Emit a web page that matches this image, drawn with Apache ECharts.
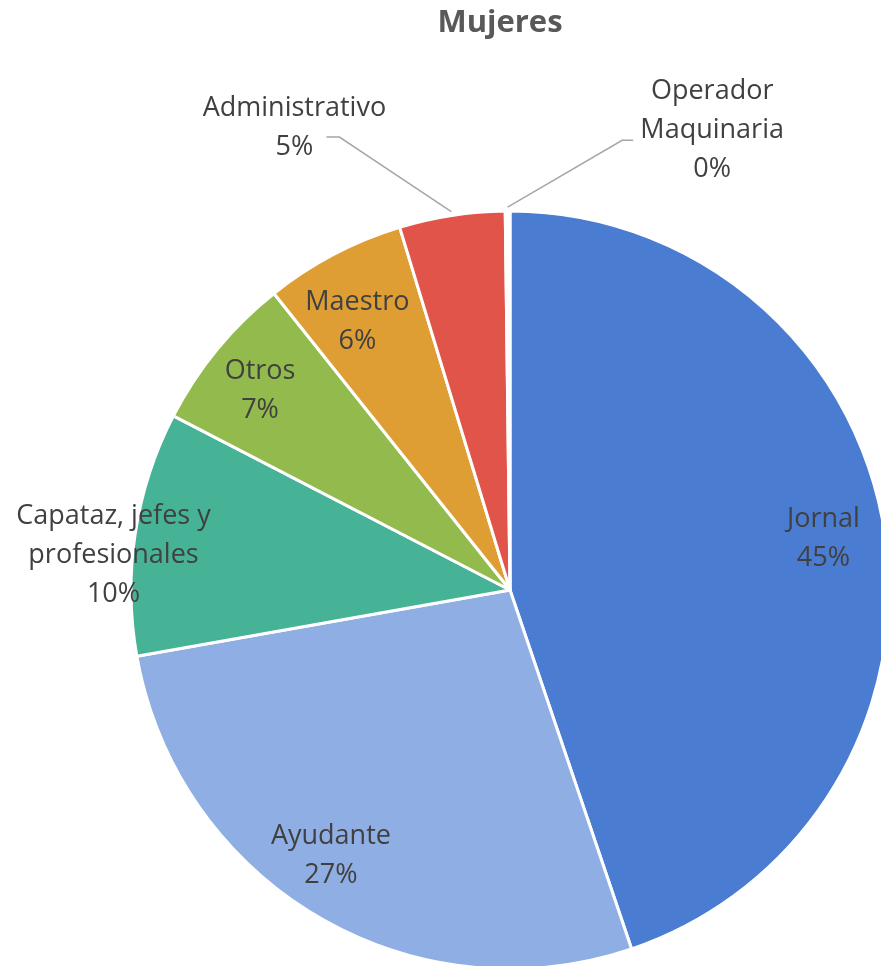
<!DOCTYPE html>
<html>
<head>
<meta charset="utf-8">
<script src="https://cdn.jsdelivr.net/npm/echarts@6/dist/echarts.min.js"></script>
<style>
  html, body { margin: 0; padding: 0; background: #fff; }
  #chart { width: 881px; height: 966px; }
</style>
</head>
<body>
<div id="chart"></div>
<script>
// datos (porcentaje de mujeres por cargo)
const categorias = ['Jornal', 'Ayudante', 'Capataz, jefes y\nprofesionales', 'Otros', 'Maestro', 'Administrativo', 'Operador\nMaquinaria']
const valores = [44.8, 27.4, 10.4, 6.7, 6.0, 4.5, 0.2]
const colores = ['#4A7CD1', '#8FAEE3', '#46B397', '#92BA4D', '#DF9E33', '#E15449', '#FFFFFF']

// posicion de etiquetas: [radio relativo, giro en grados]
const posEtiqueta = [[0.838, 0], [0.845, 3.4], [1.05, -3.7], [0.843, -0.9], [0.815, -1.9], [1.345, -16.2], [1.325, 24.1]]

const cx = 510, cy = 590, R = 379

let total = valores.reduce((a, b) => a + b, 0)
let medios = []
let acum = 0
for (let v of valores) {
    medios.push((acum + v / 2) / total * 360)
    acum += v
}

function polar(ang, k) {
    let r = ang * Math.PI / 180
    return [cx + k * R * Math.sin(r), cy - k * R * Math.cos(r)]
}

let datos = categorias.map((c, i) => {
    let d = { name: c, value: valores[i], itemStyle: { color: colores[i] } }
    if (i >= 5) {
        d.label = { position: 'outside' }
        d.labelLine = { show: true }
    }
    return d
})

var myChart = echarts.init(document.getElementById('chart'))

var option = {
    backgroundColor: '#fff',
    animation: false,
    title: {
        text: 'Mujeres',
        left: 495,
        top: 3,
        textAlign: 'center',
        textStyle: { fontFamily: 'Open Sans', fontWeight: 'bold', fontSize: 31, color: '#595959' }
    },
    series: [{
        type: 'pie',
        center: [cx, cy],
        radius: R,
        startAngle: 90,
        clockwise: true,
        data: datos,
        itemStyle: { borderColor: '#fff', borderWidth: 3 },
        label: {
            show: true,
            position: 'inside',
            fontFamily: 'Open Sans',
            fontSize: 27,
            lineHeight: 39,
            color: '#404040',
            align: 'center',
            formatter: function (p) {
                return p.name + '\n' + Math.round(p.percent) + '%'
            }
        },
        labelLine: { show: false, lineStyle: { color: '#A6A6A6', width: 1.5 } },
        labelLayout: function (p) {
            let i = p.dataIndex
            let pos = polar(medios[i] + posEtiqueta[i][1], posEtiqueta[i][0])
            let res = { x: pos[0], y: pos[1], align: 'center', verticalAlign: 'middle' }
            if (i == 5) {
                let ini = polar(medios[i], 1.01)
                res.labelLinePoints = [ini, [pos[0] + 45, pos[1] + 9], [pos[0] + 32, pos[1] + 9]]
            }
            if (i == 6) {
                let ini = polar(medios[i], 1.01)
                res.labelLinePoints = [ini, [pos[0] - 90, pos[1] + 10], [pos[0] - 79, pos[1] + 10]]
            }
            return res
        }
    }]
}

myChart.setOption(option)
</script>
</body>
</html>
